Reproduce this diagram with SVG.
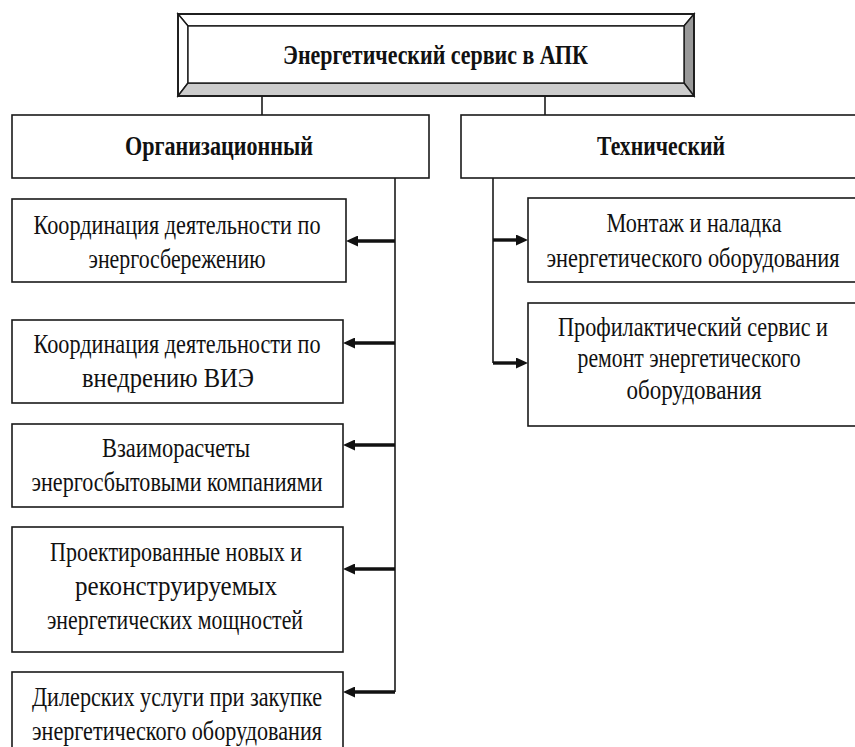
<svg xmlns="http://www.w3.org/2000/svg" width="855" height="747" viewBox="0 0 855 747">
<defs>
<style>
.box{fill:#fff;stroke:#1a1a1a;stroke-width:1.6}
.t{font-family:"Liberation Serif","DejaVu Serif","Noto Serif",serif;font-size:23px;fill:#111;text-anchor:middle}
.h{font-family:"Liberation Serif","DejaVu Serif","Noto Serif",serif;font-size:27px;font-weight:bold;fill:#111;text-anchor:middle}
.ln{stroke:#1a1a1a;stroke-width:1.6;fill:none}
.ar{stroke:#111;stroke-width:3.4;fill:none;marker-end:url(#ah)}
.bev{stroke:#1a1a1a;stroke-width:1.4}
</style>
<marker id="ah" viewBox="0 0 12 11" refX="6" refY="5.5" markerWidth="12" markerHeight="11" markerUnits="userSpaceOnUse" orient="auto">
<path d="M0,0 L12,5.5 L0,11 z" fill="#111"/>
</marker>
</defs>
<rect width="855" height="747" fill="#fff"/>

<g id="connectors">
<line class="ln" x1="262" y1="96" x2="262" y2="115"/>
<line class="ln" x1="545" y1="96" x2="545" y2="115"/>
<line class="ln" x1="395" y1="178" x2="395" y2="692"/>
<line class="ln" x1="493" y1="178" x2="493" y2="363"/>
<line class="ar" x1="395" y1="241" x2="352" y2="241"/>
<line class="ar" x1="395" y1="343" x2="349" y2="343"/>
<line class="ar" x1="395" y1="445" x2="349" y2="445"/>
<line class="ar" x1="395" y1="569" x2="349" y2="569"/>
<line class="ar" x1="395" y1="692" x2="349" y2="692"/>
<line class="ar" x1="493" y1="240" x2="522" y2="240"/>
<line class="ar" x1="493" y1="363" x2="522" y2="363"/>
</g>

<g id="root">
<polygon points="178,14 694,14 684,26 188,26" fill="#fff" class="bev"/>
<polygon points="178,14 188,26 188,83 178,96" fill="#fff" class="bev"/>
<polygon points="694,14 694,96 684,83 684,26" fill="#999" class="bev"/>
<polygon points="178,96 188,83 684,83 694,96" fill="#ccc" class="bev"/>
<rect x="188" y="26" width="496" height="57" fill="#fff" class="bev"/>
<rect x="178" y="14" width="516" height="82" fill="none" stroke="#1a1a1a" stroke-width="1.8"/>
<text class="h" x="435.5" y="64" font-size="28" textLength="305" lengthAdjust="spacingAndGlyphs">Энергетический сервис в АПК</text>
</g>

<g id="org">
<rect class="box" x="12" y="115" width="417" height="63"/>
<text class="h" x="219" y="155" textLength="188" lengthAdjust="spacingAndGlyphs">Организационный</text>
</g>

<g id="tech">
<rect class="box" x="461" y="115" width="400" height="63"/>
<text class="h" x="661" y="155" textLength="128" lengthAdjust="spacingAndGlyphs">Технический</text>
</g>

<g id="o1">
<rect class="box" x="12" y="199" width="334" height="83"/>
<text class="t" transform="translate(177,234) scale(1,1.2)" textLength="287" lengthAdjust="spacingAndGlyphs">Координация деятельности по</text>
<text class="t" transform="translate(177,268) scale(1,1.2)" textLength="177" lengthAdjust="spacingAndGlyphs">энергосбережению</text>
</g>

<g id="o2">
<rect class="box" x="12" y="320" width="331" height="83"/>
<text class="t" transform="translate(177,353) scale(1,1.2)" textLength="287" lengthAdjust="spacingAndGlyphs">Координация деятельности по</text>
<text class="t" transform="translate(168,387) scale(1,1.2)" textLength="172" lengthAdjust="spacingAndGlyphs">внедрению ВИЭ</text>
</g>

<g id="o3">
<rect class="box" x="12" y="424" width="331" height="83"/>
<text class="t" transform="translate(176,457) scale(1,1.2)" textLength="148" lengthAdjust="spacingAndGlyphs">Взаиморасчеты</text>
<text class="t" transform="translate(177,491) scale(1,1.2)" textLength="291" lengthAdjust="spacingAndGlyphs">энергосбытовыми компаниями</text>
</g>

<g id="o4">
<rect class="box" x="12" y="527" width="331" height="125"/>
<text class="t" transform="translate(176,561) scale(1,1.2)" textLength="252" lengthAdjust="spacingAndGlyphs">Проектированные новых и</text>
<text class="t" transform="translate(176,595) scale(1,1.2)" textLength="202" lengthAdjust="spacingAndGlyphs">реконструируемых</text>
<text class="t" transform="translate(175,629) scale(1,1.2)" textLength="256" lengthAdjust="spacingAndGlyphs">энергетических мощностей</text>
</g>

<g id="o5">
<rect class="box" x="12" y="672" width="331" height="90"/>
<text class="t" transform="translate(177,706) scale(1,1.2)" textLength="290" lengthAdjust="spacingAndGlyphs">Дилерских услуги при закупке</text>
<text class="t" transform="translate(177,740) scale(1,1.2)" textLength="290" lengthAdjust="spacingAndGlyphs">энергетического оборудования</text>
</g>

<g id="t1">
<rect class="box" x="528" y="198" width="340" height="84"/>
<text class="t" transform="translate(694,232) scale(1,1.2)" textLength="175" lengthAdjust="spacingAndGlyphs">Монтаж и наладка</text>
<text class="t" transform="translate(693,267) scale(1,1.2)" textLength="293" lengthAdjust="spacingAndGlyphs">энергетического оборудования</text>
</g>

<g id="t2">
<rect class="box" x="528" y="303" width="340" height="123"/>
<text class="t" transform="translate(693,336) scale(1,1.2)" textLength="270" lengthAdjust="spacingAndGlyphs">Профилактический сервис и</text>
<text class="t" transform="translate(689,367) scale(1,1.2)" textLength="223" lengthAdjust="spacingAndGlyphs">ремонт энергетического</text>
<text class="t" transform="translate(694,399) scale(1,1.2)" textLength="135" lengthAdjust="spacingAndGlyphs">оборудования</text>
</g>
</svg>
